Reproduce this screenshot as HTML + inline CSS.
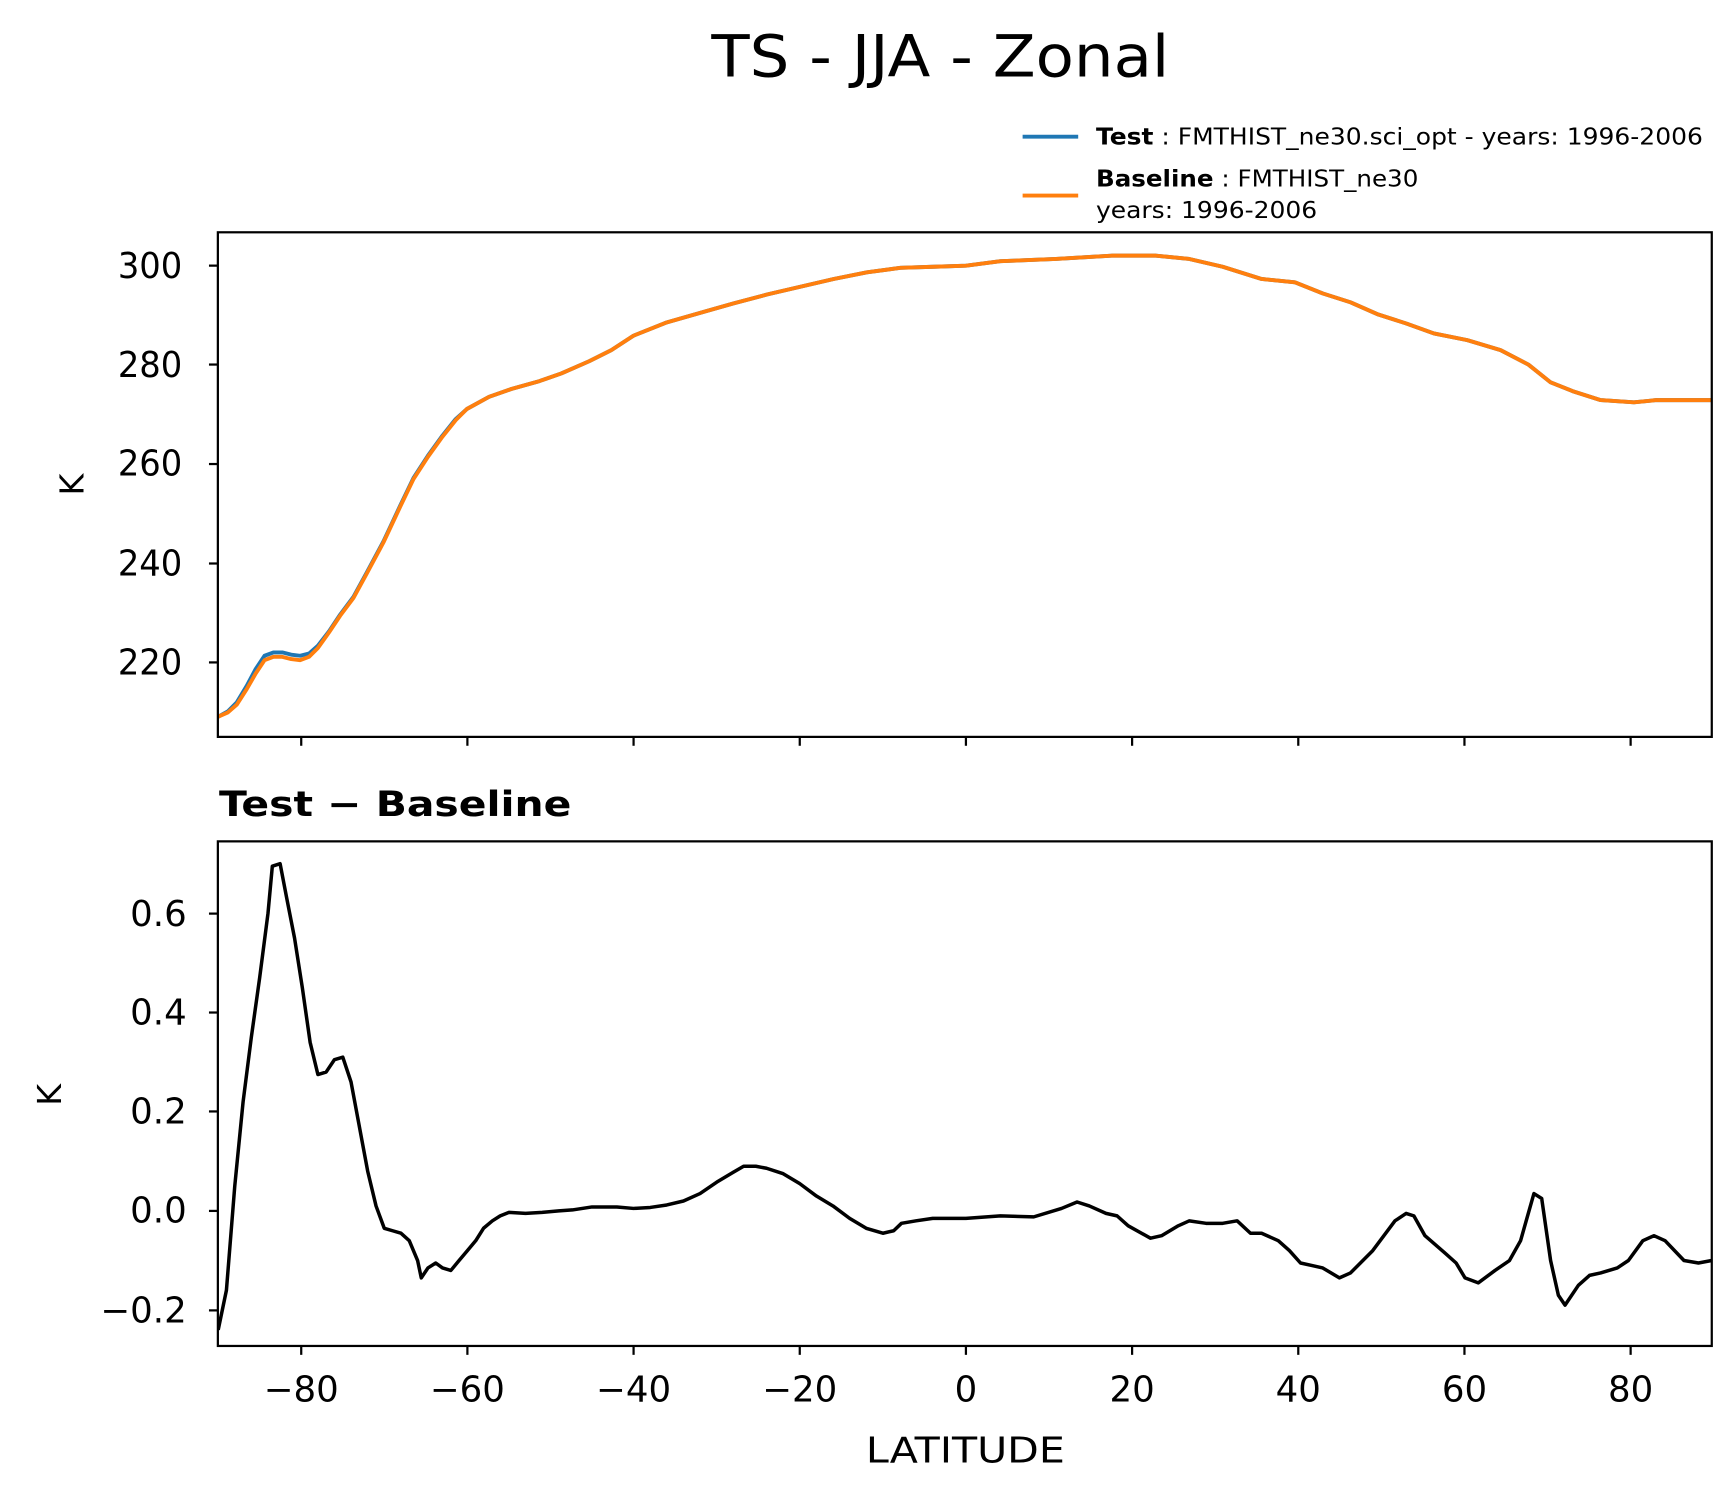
<!DOCTYPE html>
<html><head><style>body{margin:0;background:#fff}svg{display:block}</style></head><body>
<svg width="1734" height="1496" viewBox="0 0 1560 1346" preserveAspectRatio="none" xmlns="http://www.w3.org/2000/svg" font-family="DejaVu Sans, Liberation Sans, sans-serif">
<rect width="1560" height="1346" fill="#fff"/>
<text x="640" y="69" font-size="52" textLength="412" lengthAdjust="spacingAndGlyphs">TS - JJA - Zonal</text>
<!-- legend -->
<line x1="920" y1="123" x2="970" y2="123" stroke="#1f77b4" stroke-width="3.5"/>
<text x="986" y="130" font-size="21" textLength="546" lengthAdjust="spacingAndGlyphs"><tspan font-weight="bold">Test</tspan> : FMTHIST_ne30.sci_opt - years: 1996-2006</text>
<line x1="920" y1="176" x2="970" y2="176" stroke="#ff7f0e" stroke-width="3.5"/>
<text x="986" y="168" font-size="21" textLength="290" lengthAdjust="spacingAndGlyphs"><tspan font-weight="bold">Baseline</tspan> : FMTHIST_ne30</text>
<text x="986" y="196" font-size="21" textLength="199" lengthAdjust="spacingAndGlyphs">years: 1996-2006</text>
<!-- top axes -->
<g stroke="#000" stroke-width="2">
<line x1="271" y1="663" x2="271" y2="671"/><line x1="420.5" y1="663" x2="420.5" y2="671"/><line x1="570" y1="663" x2="570" y2="671"/><line x1="719.5" y1="663" x2="719.5" y2="671"/><line x1="869" y1="663" x2="869" y2="671"/><line x1="1018.5" y1="663" x2="1018.5" y2="671"/><line x1="1168" y1="663" x2="1168" y2="671"/><line x1="1317.5" y1="663" x2="1317.5" y2="671"/><line x1="1467" y1="663" x2="1467" y2="671"/>
<line x1="188" y1="239" x2="196" y2="239"/><line x1="188" y1="328" x2="196" y2="328"/><line x1="188" y1="417.5" x2="196" y2="417.5"/><line x1="188" y1="507" x2="196" y2="507"/><line x1="188" y1="596" x2="196" y2="596"/>
</g>
<g font-size="32" text-anchor="end">
<text x="164" y="250" textLength="58" lengthAdjust="spacingAndGlyphs">300</text><text x="164" y="339" textLength="58" lengthAdjust="spacingAndGlyphs">280</text><text x="164" y="428" textLength="58" lengthAdjust="spacingAndGlyphs">260</text><text x="164" y="518" textLength="58" lengthAdjust="spacingAndGlyphs">240</text><text x="164" y="607" textLength="58" lengthAdjust="spacingAndGlyphs">220</text>
</g>
<text transform="translate(75,436) rotate(-90)" font-size="30" text-anchor="middle">K</text>
<svg x="196" y="209" width="1344" height="454" viewBox="196 209 1344 454" overflow="hidden">
<polyline fill="none" stroke="#1f77b4" stroke-width="3.5" stroke-linejoin="round" points="196,645 205,640 213,632 222,617 230,602 238,590 246,587 254,587 262,589 270,590 278,588 286,581 296,568 306,553 318,537 330,515 345,487 360,455 372,430 385,410 398,392 410,377 420,368 440,357 460,350 485,343 505,336 530,325 550,315 570,302 600,290 635,280 660,273 690,265 720,258 750,251 780,245 810,241 840,240 869,239 900,235 950,233 1000,230 1040,230 1070,233 1100,240 1135,251 1165,254 1190,264 1215,272 1240,283 1265,291 1290,300 1320,306 1350,315 1375,328 1395,344 1415,352 1440,360 1470,362 1490,360 1540,360"/>
<polyline fill="none" stroke="#ff7f0e" stroke-width="3.5" stroke-linejoin="round" points="196,645 205,641 213,634 222,620 230,606 238,594 246,591 254,591 262,593 270,594 278,591 286,583 296,569 306,554 318,538 330,516 345,488 360,456 372,431 385,411 398,393 410,378 420,368 440,357 460,350 485,343 505,336 530,325 550,315 570,302 600,290 635,280 660,273 690,265 720,258 750,251 780,245 810,241 840,240 869,239 900,235 950,233 1000,230 1040,230 1070,233 1100,240 1135,251 1165,254 1190,264 1215,272 1240,283 1265,291 1290,300 1320,306 1350,315 1375,328 1395,344 1415,352 1440,360 1470,362 1490,360 1540,360"/>
</svg>
<rect x="196" y="209" width="1344" height="454" fill="none" stroke="#000" stroke-width="2"/>
<!-- bottom axes -->
<text x="197" y="734" font-size="31" font-weight="bold" textLength="317" lengthAdjust="spacingAndGlyphs">Test − Baseline</text>
<g stroke="#000" stroke-width="2">
<line x1="271" y1="1211" x2="271" y2="1219"/><line x1="420.5" y1="1211" x2="420.5" y2="1219"/><line x1="570" y1="1211" x2="570" y2="1219"/><line x1="719.5" y1="1211" x2="719.5" y2="1219"/><line x1="869" y1="1211" x2="869" y2="1219"/><line x1="1018.5" y1="1211" x2="1018.5" y2="1219"/><line x1="1168" y1="1211" x2="1168" y2="1219"/><line x1="1317.5" y1="1211" x2="1317.5" y2="1219"/><line x1="1467" y1="1211" x2="1467" y2="1219"/>
<line x1="188" y1="822" x2="196" y2="822"/><line x1="188" y1="911" x2="196" y2="911"/><line x1="188" y1="1000" x2="196" y2="1000"/><line x1="188" y1="1089.5" x2="196" y2="1089.5"/><line x1="188" y1="1179" x2="196" y2="1179"/>
</g>
<g font-size="32" text-anchor="end">
<text x="168" y="833">0.6</text><text x="168" y="922">0.4</text><text x="168" y="1011">0.2</text><text x="168" y="1100">0.0</text><text x="168" y="1190">−0.2</text>
</g>
<text transform="translate(55,985) rotate(-90)" font-size="30" text-anchor="middle">K</text>
<g font-size="32" text-anchor="middle">
<text x="271" y="1261">−80</text><text x="420.5" y="1261">−60</text><text x="570" y="1261">−40</text><text x="719.5" y="1261">−20</text><text x="869" y="1261">0</text><text x="1018.5" y="1261">20</text><text x="1168" y="1261">40</text><text x="1317.5" y="1261">60</text><text x="1467" y="1261">80</text>
</g>
<text x="779" y="1316" font-size="32" textLength="179" lengthAdjust="spacingAndGlyphs">LATITUDE</text>
<svg x="196" y="757" width="1344" height="454" viewBox="196 757 1344 454" overflow="hidden">
<g transform="translate(0,1089.5) scale(1,-446.25)">
<polyline fill="none" stroke="#000" stroke-width="3.5" vector-effect="non-scaling-stroke" stroke-linejoin="round" points="196.3,-0.24 203.7,-0.16 211.2,0.05 218.7,0.22 226.1,0.35 233.6,0.47 241.1,0.6 245,0.695 252,0.7 258,0.63 265,0.55 272,0.45 279,0.34 286,0.275 293.4,0.28 300.9,0.305 308.4,0.31 315.8,0.26 323.3,0.17 330.8,0.08 338.3,0.01 345.7,-0.035 353.2,-0.04 360.7,-0.045 368.2,-0.06 375.7,-0.1 379,-0.135 385,-0.115 392,-0.105 398.1,-0.115 405.6,-0.12 413,-0.1 420.5,-0.08 428,-0.06 435,-0.035 443,-0.02 450,-0.01 457.9,-0.003 472.8,-0.005 487.8,-0.003 502.7,0 515,0.002 532.6,0.008 555,0.008 570,0.005 585,0.007 599.9,0.012 614.9,0.02 629.8,0.035 644.8,0.058 659.7,0.078 669,0.09 680,0.09 689.6,0.086 704.6,0.075 719.5,0.055 734.5,0.03 749.4,0.01 764.4,-0.015 779.3,-0.035 794.3,-0.045 804,-0.04 811,-0.025 824.2,-0.02 839.1,-0.015 854.1,-0.015 869,-0.015 900,-0.01 930,-0.012 955,0.005 969,0.018 980,0.01 995,-0.005 1005,-0.01 1015,-0.03 1035,-0.055 1045,-0.05 1060,-0.03 1070,-0.02 1085,-0.025 1100,-0.025 1113,-0.02 1125,-0.045 1135,-0.045 1150,-0.06 1160,-0.08 1170,-0.105 1180,-0.11 1190,-0.115 1205,-0.135 1215,-0.125 1235,-0.08 1255,-0.02 1265,-0.005 1272,-0.01 1282,-0.05 1300,-0.085 1310,-0.105 1318,-0.135 1330,-0.145 1345,-0.12 1358,-0.1 1368,-0.06 1380,0.035 1387,0.025 1395,-0.1 1402,-0.17 1408,-0.19 1420,-0.15 1430,-0.13 1440,-0.125 1455,-0.115 1465,-0.1 1478,-0.06 1488,-0.05 1498,-0.06 1515,-0.1 1528,-0.105 1540,-0.1"/>
</g>
</svg>
<rect x="196" y="757" width="1344" height="454" fill="none" stroke="#000" stroke-width="2"/>
</svg>
</body></html>
